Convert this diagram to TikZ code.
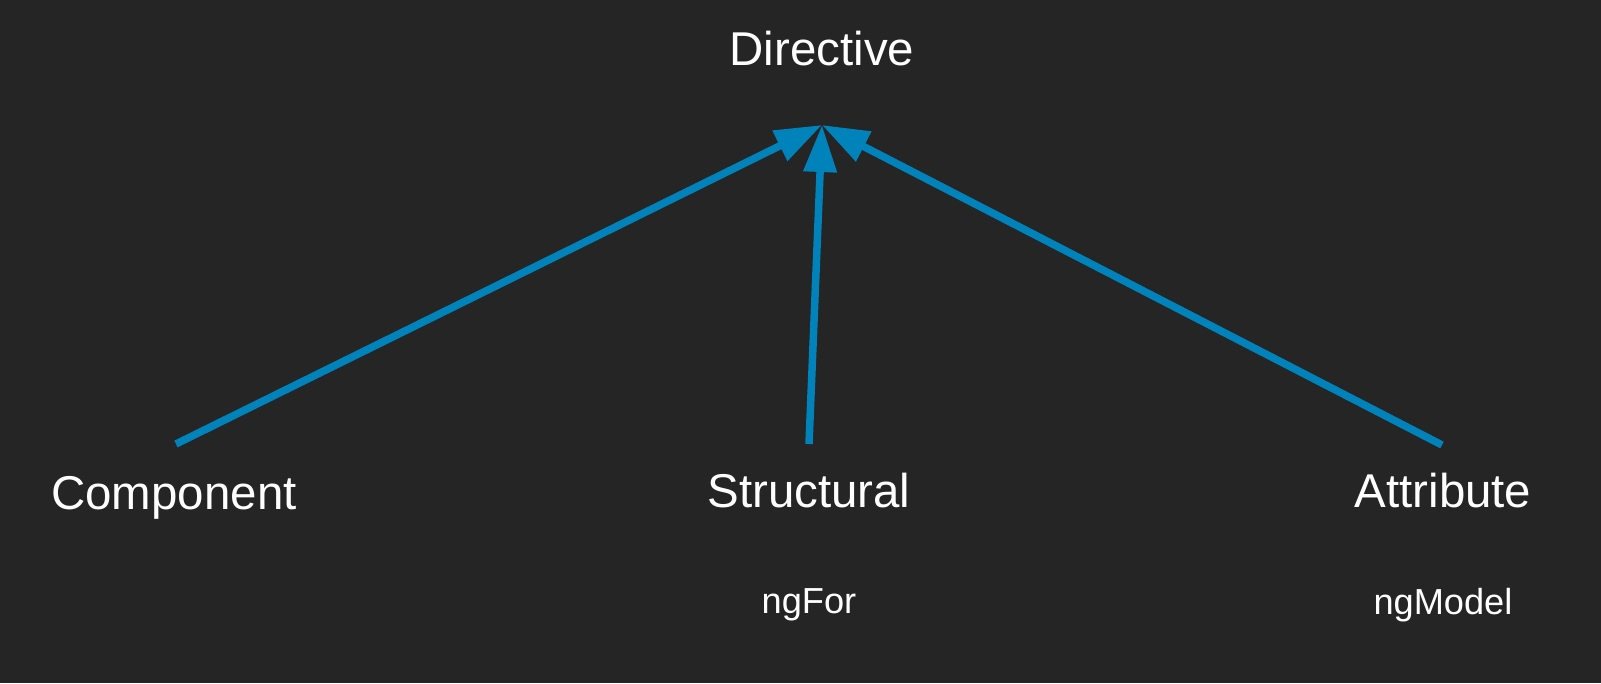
\documentclass[tikz,border=0pt]{standalone}
\usepackage{fontspec}
\setmainfont{Liberation Sans}
\usetikzlibrary{arrows.meta,calc}
\definecolor{bgdark}{HTML}{252525}
\definecolor{arrblue}{HTML}{0083BA}

\begin{document}
\begin{tikzpicture}[
  lbl/.style={text=white,font=\fontsize{13.5}{16}\selectfont,anchor=base,inner sep=0pt},
  sublbl/.style={text=white,font=\fontsize{10.3}{12}\selectfont,anchor=base,inner sep=0pt},
  arr/.style={draw=arrblue,line width=0.075cm,-{Triangle[length=0.47cm,width=0.32cm,fill=arrblue]}}]
  \fill[bgdark] (0,0) rectangle (16.01,6.83);
  \useasboundingbox (0,0) rectangle (16.01,6.83);
  % labels
  \node[lbl] (dir) at (8.22,6.18) {Directive};
  \node[lbl] (comp) at (1.74,1.74) {Component};
  \node[lbl] (struct) at (8.09,1.76) {Structural};
  \node[lbl] (attr) at (14.43,1.76) {Attribute};
  \node[sublbl] (ngfor) at (8.09,0.70) {ngFor};
  \node[sublbl] (ngmodel) at (14.43,0.69) {ngModel};
  % arrow ends
  \coordinate (hub) at ($(dir.base)+(0,-0.60)$);
  \coordinate (comp-top) at ($(comp.base)+(0.02,0.65)$);
  \coordinate (struct-top) at ($(struct.base)+(0,0.63)$);
  \coordinate (attr-top) at ($(attr.base)+(-0.01,0.62)$);
  \draw[arr] (comp-top) -- (hub);
  \draw[arr] (struct-top) -- (hub);
  \draw[arr] (attr-top) -- (hub);
\end{tikzpicture}
\end{document}
